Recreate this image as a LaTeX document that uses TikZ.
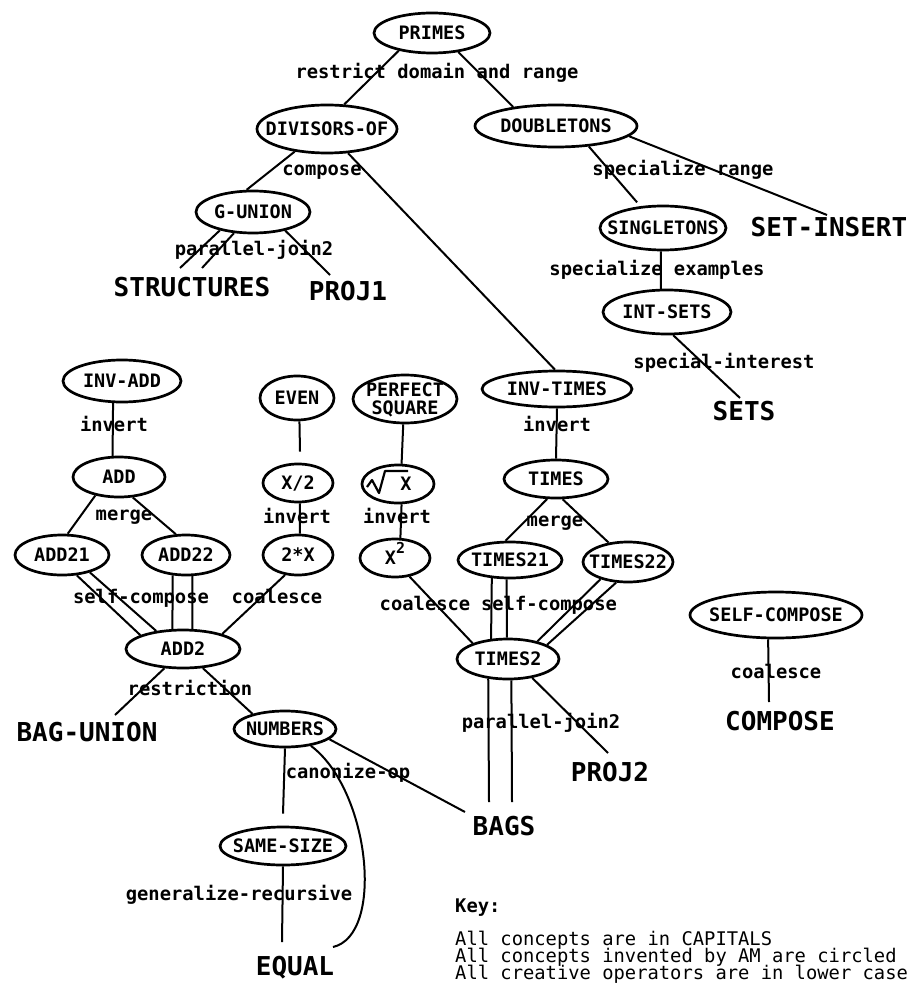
\documentclass[tikz,border=0pt]{standalone}
\usepackage{fontspec}
\usetikzlibrary{shapes.geometric}
\newfontfamily\amfont{DejaVu Sans Mono}
% text centred in an ellipse without enlarging it
\newcommand\inel[1]{\smash{\makebox[0pt]{\raisebox{-0.36em}{#1}}}}
\tikzset{
  concept/.style={ellipse, draw, line width=2.7pt, inner sep=0pt,
    font=\amfont\bfseries\fontsize{18.5}{19}\selectfont},
  op/.style={font=\amfont\bfseries\fontsize{18.8}{19}\selectfont,
    inner sep=0pt, text height=0.73em, text depth=0pt},
  big/.style={font=\amfont\bfseries\fontsize{26}{28}\selectfont,
    inner sep=0pt, text height=0.73em, text depth=0pt},
  keytext/.style={font=\amfont\fontsize{18.8}{16.5}\selectfont,
    inner sep=0pt, anchor=base west},
  link/.style={line width=2pt},
}
\begin{document}
\begin{tikzpicture}[x=1pt, y=-1pt]
\useasboundingbox (0,0) rectangle (919,984);

% ---- concepts (circled) ----
\node[concept, minimum width=116pt, minimum height=40pt] (primes)   at (432,33)  {\inel{PRIMES}};
\node[concept, minimum width=140pt, minimum height=48pt] (div)      at (327,129) {\inel{DIVISORS-OF}};
\node[concept, minimum width=162pt, minimum height=42pt] (doub)     at (556,126) {\inel{DOUBLETONS}};
\node[concept, minimum width=114pt, minimum height=42pt] (gunion)   at (253,212) {\inel{G-UNION}};
\node[concept, minimum width=126pt, minimum height=44pt] (single)   at (663,228) {\inel{SINGLETONS}};
\node[concept, minimum width=128pt, minimum height=44pt] (intsets)  at (667,312) {\inel{INT-SETS}};
\node[concept, minimum width=118pt, minimum height=42pt] (invadd)   at (122,381) {\inel{INV-ADD}};
\node[concept, minimum width=74pt,  minimum height=44pt] (even)     at (297,398) {\inel{EVEN}};
\node[concept, minimum width=104pt, minimum height=48pt] (psq)      at (405,399)
  {\inel{\begin{tabular}{@{}c@{}}PERFECT\\[-1pt]SQUARE\end{tabular}}};
\node[concept, minimum width=150pt, minimum height=36pt] (invtimes) at (557,389) {\inel{INV-TIMES}};
\node[concept, minimum width=92pt,  minimum height=40pt] (add)      at (119,477) {\inel{ADD}};
\node[concept, minimum width=70pt,  minimum height=38pt] (half)     at (298,483) {\inel{X/2}};
\node[concept, minimum width=72pt,  minimum height=38pt] (sqrt)     at (398,484) {\inel{\hspace{16pt}X}};
\node[concept, minimum width=104pt, minimum height=38pt] (times)    at (556,479) {\inel{TIMES}};
\node[concept, minimum width=94pt,  minimum height=40pt] (add21)    at (62,555)  {\inel{ADD21}};
\node[concept, minimum width=88pt,  minimum height=40pt] (add22)    at (186,555) {\inel{ADD22}};
\node[concept, minimum width=70pt,  minimum height=40pt] (double)   at (298,555) {\inel{2*X}};
\node[concept, minimum width=70pt,  minimum height=38pt] (sq)       at (395,558)
  {\inel{X\raisebox{0.62em}{\fontsize{15}{15}\selectfont 2}}};
\node[concept, minimum width=104pt, minimum height=36pt] (times21)  at (510,560) {\inel{TIMES21}};
\node[concept, minimum width=90pt,  minimum height=40pt] (times22)  at (628,562) {\inel{TIMES22}};
\node[concept, minimum width=114pt, minimum height=38pt] (add2)     at (183,649) {\inel{ADD2}};
\node[concept, minimum width=102pt, minimum height=40pt] (times2)   at (508,659) {\inel{TIMES2}};
\node[concept, minimum width=172pt, minimum height=46pt] (selfcomp) at (776,615) {\inel{SELF-COMPOSE}};
\node[concept, minimum width=102pt, minimum height=36pt] (numbers)  at (285,729) {\inel{NUMBERS}};
\node[concept, minimum width=126pt, minimum height=38pt] (samesize) at (283,846) {\inel{SAME-SIZE}};

% radical sign of the square-root concept
\draw[line width=2.2pt, line join=round]
  ([shift={(-31,3)}]sqrt.center) -- ++(5,-7) -- ++(7,13) -- ++(6,-22) -- ++(23,0);

% ---- concepts (not circled) ----
\node[big] (struct)   at (192,293) {STRUCTURES};
\node[big] (proj1)    at (348,297) {PROJ1};
\node[big] (setins)   at (829,233) {SET-INSERT};
\node[big] (sets)     at (744,417) {SETS};
\node[big] (bagunion) at (87,738)  {BAG-UNION};
\node[big] (proj2)    at (610,778) {PROJ2};
\node[big] (bags)     at (504,832) {BAGS};
\node[big] (compose)  at (780,727) {COMPOSE};
\node[big] (equal)    at (295,972) {EQUAL};

% ---- creative operators ----
\node[op] (o1)  at (437,75)  {restrict domain and range};
\node[op] (o2)  at (322,172) {compose};
\node[op] (o3)  at (683,172) {specialize range};
\node[op] (o4)  at (254,252) {parallel-join2};
\node[op] (o5)  at (657,272) {specialize examples};
\node[op] (o6)  at (724,365) {special-interest};
\node[op] (o7)  at (114,428) {invert};
\node[op] (o8)  at (297,520) {invert};
\node[op] (o9)  at (397,520) {invert};
\node[op] (o10) at (557,428) {invert};
\node[op] (o11) at (124,517) {merge};
\node[op] (o12) at (555,523) {merge};
\node[op] (o13) at (141,600) {self-compose};
\node[op] (o14) at (277,600) {coalesce};
\node[op] (o15) at (425,607) {coalesce};
\node[op] (o16) at (549,607) {self-compose};
\node[op] (o17) at (190,692) {restriction};
\node[op] (o18) at (541,725) {parallel-join2};
\node[op] (o19) at (776,675) {coalesce};
\node[op] (o20) at (348,775) {canonize-op};
\node[op] (o21) at (239,897) {generalize-recursive};

% ---- links ----
\draw[link] (primes.208) -- (div.55);
\draw[link] (primes.324) -- (doub.156);
\draw[link] (div.215) -- (gunion.106);
\draw[link] (div.311) -- (invtimes.96);
\draw[link, shorten >=5pt] (doub.328) -- (single.136);
\draw[link] (doub.352) -- ([shift={(-2,-18)}]setins.center);
\draw[link] (single.265) -- (intsets.105);
\draw[link] (intsets.285) -- ([shift={(-4,-19)}]sets.center);
\draw[link] (gunion.209) -- ([shift={(-12,-25)}]struct.center);
\draw[link] (gunion.228) -- ([shift={(10,-25)}]struct.center);
\draw[link] (gunion.330) -- ([shift={(-18,-22)}]proj1.center);

\draw[link] (invadd.248) -- (add.107);
\draw[link] (add.218) -- (add21.75);
\draw[link] (add.304) -- (add22.116);
\draw[link] (add21.306) -- (add2.162);
\draw[link] (add21.328) -- (add2.146);
\draw[link] (add22.237) -- (add2.118);
\draw[link] (add22.287) -- (add2.65);
\draw[link] (double.237) -- (add2.21);
\draw[link] (even.276) -- ([xshift=2pt,yshift=11pt]half.north);
\draw[link] (half.275) -- (double.85);
\draw[link] (psq.266) -- (sqrt.80);
\draw[link] (sqrt.280) -- (sq.75);

\draw[link] (invtimes.south) -- (times.north);
\draw[link] (times.246) -- (times21.103);
\draw[link] (times.288) -- (times22.135);
\draw[link] (times21.225) -- (times2.130);
\draw[link] (times21.260) -- (times2.93);
\draw[link] (times22.212) -- (times2.31);
\draw[link] (times22.240) -- (times2.20);
\draw[link] (sq.308) -- (times2.156);
\draw[link] (times2.322) -- ([shift={(-2,-25)}]proj2.center);
\draw[link] (times2.225) -- ([shift={(-15,-30)}]bags.center);
\draw[link] (times2.279) -- ([shift={(8,-30)}]bags.center);
\draw[link] (selfcomp.252) -- ([shift={(-11,-25)}]compose.center);

\draw[link] (add2.226) -- ([shift={(28,-23)}]bagunion.center);
\draw[link] (add2.316) -- (numbers.155);
\draw[link] (numbers.south) -- ([yshift=12pt]samesize.north);
\draw[link] (numbers.347) -- ([shift={(-39,-20)}]bags.center);
\draw[link] (numbers.327) .. controls (370,790) and (385,935) .. ([shift={(38,-25)}]equal.center);
\draw[link] (samesize.south) -- ([shift={(-13,-30)}]equal.center);

% ---- key ----
\node[keytext, font=\amfont\bfseries\fontsize{18.8}{16.5}\selectfont] (key) at (455,912) {Key:};
\node[keytext] (k1) at (455,945) {All concepts are in CAPITALS};
\node[keytext] (k2) at (455,962) {All concepts invented by AM are circled};
\node[keytext] (k3) at (455,979) {All creative operators are in lower case};
\end{tikzpicture}
\end{document}
